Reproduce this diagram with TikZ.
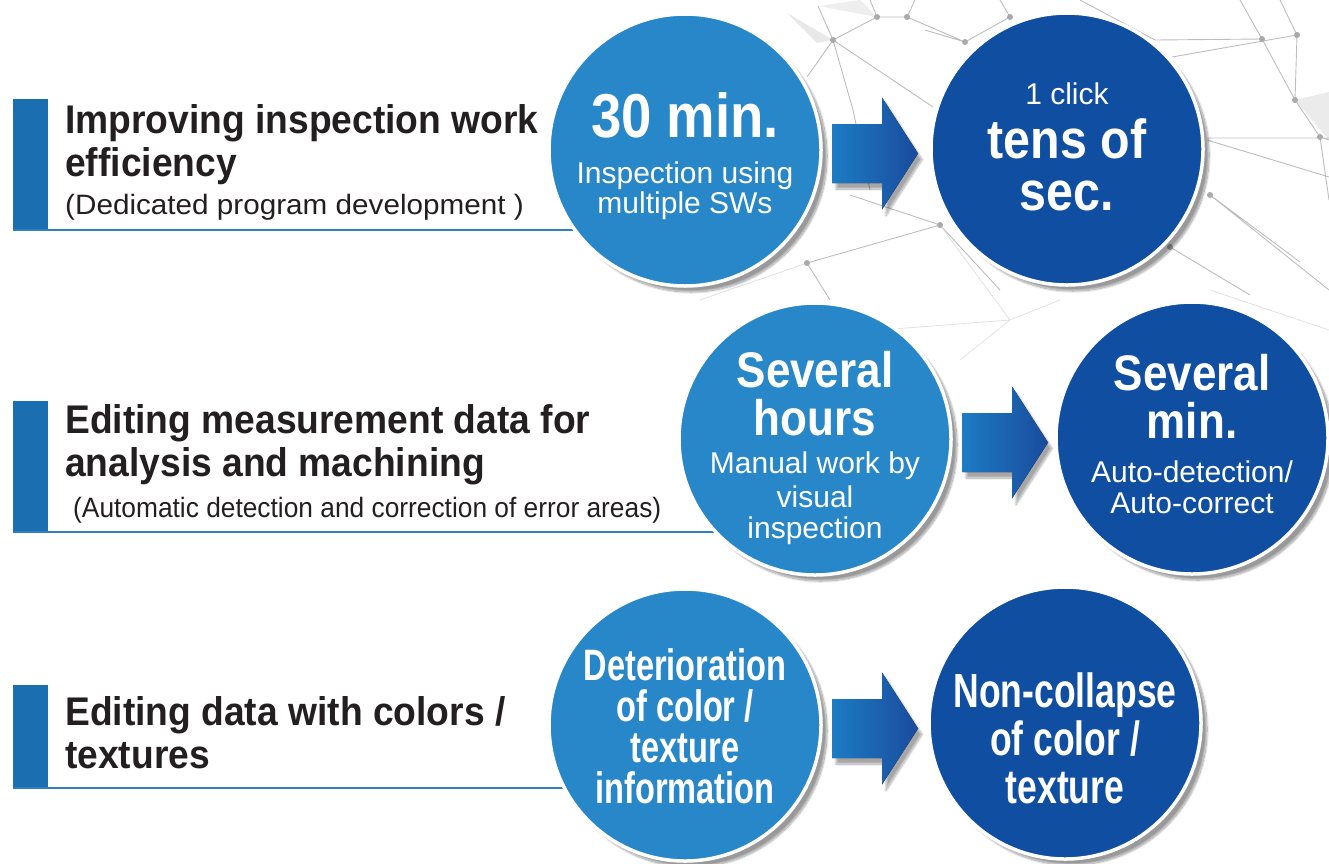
\documentclass[tikz,border=0pt]{standalone}
\usepackage{fontspec}
\setmainfont{Liberation Sans}
\newfontfamily\headfont[FakeStretch=0.93]{Liberation Sans}
\newfontfamily\notefont{Liberation Sans}
\newfontfamily\subwidefont[FakeStretch=1.06]{Liberation Sans}
\newfontfamily\subnarrowfont[FakeStretch=0.94]{Liberation Sans}
\newfontfamily\bigfont[FakeStretch=0.88]{Liberation Sans}
\newfontfamily\tallfont[FakeStretch=0.74]{Liberation Sans}
\usepackage{xcolor}
\definecolor{bar-blue}{HTML}{1B6FB1}
\definecolor{line-blue}{HTML}{2F7EC1}
\definecolor{circle-light}{HTML}{2787C8}
\definecolor{circle-dark}{HTML}{0F4EA0}
\definecolor{arrow-left}{HTML}{1C7CC4}
\definecolor{arrow-right}{HTML}{1A4B9D}
\definecolor{text-dark}{HTML}{231F20}
\definecolor{net-gray}{HTML}{BDBDBD}
\usepackage{tikz}
\usetikzlibrary{calc,shadows.blur}

\begin{document}
\begin{tikzpicture}[
  x=1pt, y=-1pt,
  topic/.style={
    anchor=base west, inner sep=0pt,
    text=text-dark,
    font=\headfont\bfseries\fontsize{40}{44}\selectfont
  },
  subtopic/.style={
    anchor=base west, inner sep=0pt,
    text=text-dark,
    font=#1\fontsize{28}{30}\selectfont
  },
  bubble/.style={
    circle, minimum size=272pt, inner sep=0pt,
    draw=white, line width=3.5pt,
    blur shadow={shadow xshift=6pt, shadow yshift=-6pt, shadow blur steps=14, shadow opacity=40}
  },
  oldstate/.style={bubble, fill=circle-light},
  newstate/.style={bubble, fill=circle-dark},
  bigtxt/.style={anchor=base, inner sep=0pt, text=white, font=\bigfont\bfseries\fontsize{#1}{#1}\selectfont},
  talltxt/.style={anchor=base, inner sep=0pt, text=white, font=\tallfont\bfseries\fontsize{#1}{#1}\selectfont},
  smalltxt/.style={anchor=base, inner sep=0pt, text=white, font=\notefont\fontsize{30}{30}\selectfont},
  blockarrow/.style={
    left color=arrow-left, right color=arrow-right,
    blur shadow={shadow xshift=4pt, shadow yshift=-6pt, shadow blur steps=10, shadow opacity=35}
  },
  netline/.style={draw=net-gray, line width=0.9pt},
  faintnet/.style={draw=net-gray!45, line width=0.8pt},
  netdot/.style={fill=net-gray!90!black}
]

\useasboundingbox (0,0) rectangle (1329,863);

% Background network
\fill[net-gray!35] (787,13) -- (817,43) -- (833,40) -- cycle;
\fill[net-gray!30] (1295,100) -- (1329,92) -- (1329,140) -- cycle;
\fill[net-gray!25] (818,6) -- (877,17) -- (860,0) -- cycle;
\draw[netline] (818,6) -- (833,40) -- (877,17) -- (907,17) -- (965,42) -- (1010,17)
  (833,40) -- (807,77) (833,40) -- (853,110) -- (870,190) (833,40) -- (933,107)
  (877,17) -- (870,0) (907,17) -- (915,0) (1010,17) -- (1000,0) (965,42) -- (925,30)
  (1155,40) -- (1262,39) -- (1240,0) (1172,57) -- (1297,35) -- (1280,0)
  (1297,35) -- (1295,100) -- (1262,39) (1295,100) -- (1320,137) -- (1329,140)
  (1207,140) -- (1329,177) (1207,138) -- (1329,138) (1080,0) -- (1155,40)
  (1210,195) -- (1329,290) (1210,195) -- (1300,262) (1320,137) -- (1329,200)
  (850,195) -- (940,225) -- (1000,290) (807,263) -- (940,225) (807,263) -- (830,300)
  (1170,247) -- (1250,295);
\draw[faintnet] (700,300) -- (807,263) (940,225) -- (1010,320) -- (1060,300)
  (880,330) -- (1010,320) (1210,290) -- (1329,330) (960,360) -- (1010,320);
\foreach \p in {(833,40),(877,17),(907,17),(965,42),(1010,17),(1262,39),(1297,35),
  (1295,100),(1320,137),(1210,195),(940,225),(807,263),(1170,247)}
  \fill[netdot] \p circle (3);

% Rows: accent bars and underlines
\fill[bar-blue] (13,99) rectangle (48,230);
\fill[bar-blue] (13,401) rectangle (48,532);
\fill[bar-blue] (13,685) rectangle (48,788);
\draw[line-blue, line width=2.5pt] (13,230) -- (620,230);
\draw[line-blue, line width=2.5pt] (13,532) -- (740,532);
\draw[line-blue, line width=2.5pt] (13,788) -- (620,788);

% Topics
\node[topic] (top1a) at (65,133) {Improving inspection work};
\node[topic] (top1b) at (65,176) {efficiency};
\node[subtopic=\subwidefont] (sub1) at (65,214) {(Dedicated program development )};
\node[topic] (top2a) at (65,433) {Editing measurement data for};
\node[topic] (top2b) at (65,476) {analysis and machining};
\node[subtopic=\subnarrowfont] (sub2) at (73,517) {(Automatic detection and correction of error areas)};
\node[topic] (top3a) at (65,725) {Editing data with colors /};
\node[topic] (top3b) at (65,768) {textures};

% Circles
\node[oldstate] (c1) at (685,150) {};
\node[newstate] (c2) at (1067,149) {};
\node[oldstate] (c3) at (815,439) {};
\node[newstate] (c4) at (1192,438) {};
\node[oldstate] (c5) at (685,725) {};
\node[newstate] (c6) at (1065,723) {};

% Arrows
\fill[blockarrow] ($(c1)+(147,-26)$) -- ++(50,0) -- ++(0,-26.5) -- ++(36,56) -- ++(-36,56) -- ++(0,-26.5) -- ++(-50,0) -- cycle;
\fill[blockarrow] ($(c3)+(147,-26)$) -- ++(50,0) -- ++(0,-26.5) -- ++(36,56) -- ++(-36,56) -- ++(0,-26.5) -- ++(-50,0) -- cycle;
\fill[blockarrow] ($(c5)+(147,-26)$) -- ++(50,0) -- ++(0,-26.5) -- ++(36,56) -- ++(-36,56) -- ++(0,-26.5) -- ++(-50,0) -- cycle;

% Circle texts
\node[bigtxt=62] (t1a) at ($(c1)+(0,-13)$) {30 min.};
\node[smalltxt] (t1b) at ($(c1)+(0,33)$) {Inspection using};
\node[smalltxt] (t1c) at ($(c1)+(0,63)$) {multiple SWs};

\node[smalltxt] (t2a) at ($(c2)+(0,-45)$) {1 click};
\node[bigtxt=55] (t2b) at ($(c2)+(0,9)$) {tens of};
\node[bigtxt=55] (t2c) at ($(c2)+(0,61)$) {sec.};

\node[bigtxt=50] (t3a) at ($(c3)+(0,-52)$) {Several};
\node[bigtxt=50] (t3b) at ($(c3)+(0,-4)$) {hours};
\node[smalltxt] (t3c) at ($(c3)+(0,34)$) {Manual work by};
\node[smalltxt] (t3d) at ($(c3)+(0,68)$) {visual};
\node[smalltxt] (t3e) at ($(c3)+(0,99)$) {inspection};

\node[bigtxt=50] (t4a) at ($(c4)+(0,-48)$) {Several};
\node[bigtxt=50] (t4b) at ($(c4)+(0,0)$) {min.};
\node[smalltxt] (t4c) at ($(c4)+(0,44)$) {Auto-detection/};
\node[smalltxt] (t4d) at ($(c4)+(0,75)$) {Auto-correct};

\node[talltxt=44] (t5a) at ($(c5)+(0,-45)$) {Deterioration};
\node[talltxt=44] (t5b) at ($(c5)+(0,-4)$) {of color /};
\node[talltxt=44] (t5c) at ($(c5)+(0,37)$) {texture};
\node[talltxt=44] (t5d) at ($(c5)+(0,78)$) {information};

\node[talltxt=48] (t6a) at ($(c6)+(0,-16)$) {Non-collapse};
\node[talltxt=48] (t6b) at ($(c6)+(0,32)$) {of color /};
\node[talltxt=48] (t6c) at ($(c6)+(0,80)$) {texture};

\end{tikzpicture}
\end{document}
